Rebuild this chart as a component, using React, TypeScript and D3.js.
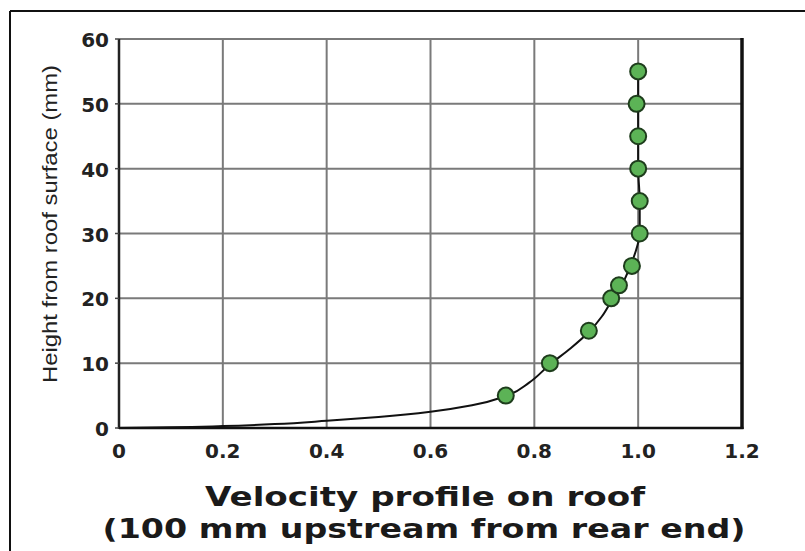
import React from 'react';
import * as d3 from 'd3';

// measured points: height (mm) and velocity ratio
const heights = [5, 10, 15, 20, 22, 25, 30, 35, 40, 45, 50, 55];
const velocities = [0.745, 0.83, 0.905, 0.948, 0.963, 0.988, 1.003, 1.003, 1.0, 1.0, 0.997, 1.0];

// fitted profile line
const curveVelocity = [0, 0.1, 0.2, 0.3, 0.4, 0.5, 0.6, 0.68, 0.745, 0.79, 0.83, 0.87, 0.905, 0.93, 0.95, 0.968, 0.985, 0.998, 1.003, 1.003, 1.0, 1.0, 1.0, 1.0];
const curveHeight = [0, 0.1, 0.3, 0.6, 1.1, 1.7, 2.5, 3.5, 4.9, 7, 9.8, 12.3, 14.8, 17.2, 19.8, 22, 25, 28, 30, 35, 40, 45, 50, 55];

const xTicks = [0, 0.2, 0.4, 0.6, 0.8, 1.0, 1.2];
const xTickLabels = ['0', '0.2', '0.4', '0.6', '0.8', '1.0', '1.2'];
const yTicks = [0, 10, 20, 30, 40, 50, 60];

const yLabel = 'Height from roof surface (mm)';
const titleLines = ['Velocity profile on roof', '(100 mm upstream from rear end)'];

export default function App() {
  const width = 805;
  const height = 551;
  const left = 119;
  const right = 742;
  const top = 39;
  const bottom = 428;

  const x = d3.scaleLinear().domain([0, 1.2]).range([left, right]);
  const y = d3.scaleLinear().domain([0, 60]).range([bottom, top]);

  const line = d3
    .line<number>()
    .x((d, i) => x(curveVelocity[i]))
    .y((d) => y(d))
    .curve(d3.curveMonotoneY);

  const tickFont = 'DejaVu Sans, sans-serif';

  return (
    <svg
      width={width}
      height={height}
      style={{ position: 'absolute', left: 0, top: 0, background: '#fff' }}
    >
      {/* frame */}
      <line x1={10} y1={11} x2={width} y2={11} stroke="#111" strokeWidth={2} />
      <line x1={10} y1={11} x2={10} y2={height} stroke="#111" strokeWidth={2} />

      {/* grid */}
      {xTicks.slice(1, -1).map((t) => (
        <line key={'gx' + t} x1={x(t)} x2={x(t)} y1={top} y2={bottom} stroke="#7a7a7a" strokeWidth={2} />
      ))}
      {yTicks.slice(1).map((t) => (
        <line key={'gy' + t} x1={left} x2={right} y1={y(t)} y2={y(t)} stroke="#7a7a7a" strokeWidth={2} />
      ))}

      {/* axes */}
      <line x1={left} x2={left} y1={top} y2={bottom + 1} stroke="#222" strokeWidth={2.5} />
      <line x1={left} x2={right + 1.5} y1={bottom} y2={bottom} stroke="#111" strokeWidth={2.5} />
      <line x1={right} x2={right} y1={top - 1} y2={bottom + 1} stroke="#111" strokeWidth={3.5} />
      {yTicks.map((t) => (
        <line key={'ty' + t} x1={left - 4} x2={left} y1={y(t)} y2={y(t)} stroke="#444" strokeWidth={1.5} />
      ))}

      {/* tick labels */}
      {xTicks.map((t, i) => (
        <text
          key={'lx' + t}
          x={x(t)}
          y={458}
          textAnchor="middle"
          fontFamily={tickFont}
          fontWeight="bold"
          fontSize={20}
          fill="#222"
        >
          {xTickLabels[i]}
        </text>
      ))}
      {yTicks.map((t) => (
        <text
          key={'ly' + t}
          x={left - 10}
          y={y(t) + 8}
          textAnchor="end"
          fontFamily={tickFont}
          fontWeight="bold"
          fontSize={20}
          fill="#222"
        >
          {t}
        </text>
      ))}

      {/* profile line */}
      <path d={line(curveHeight) || ''} fill="none" stroke="#111" strokeWidth={2} />

      {/* points */}
      {heights.map((h, i) => (
        <circle
          key={'p' + h}
          cx={x(velocities[i])}
          cy={y(h)}
          r={8}
          fill="#5cb356"
          stroke="#1e3d1c"
          strokeWidth={2}
        />
      ))}

      {/* y axis title */}
      <text
        transform={`translate(57, 224) rotate(-90)`}
        textAnchor="middle"
        fontFamily="Liberation Sans, Arial, sans-serif"
        fontSize={20}
        textLength={318}
        lengthAdjust="spacingAndGlyphs"
        fill="#222"
      >
        {yLabel}
      </text>

      {/* x axis title */}
      <text
        x={425}
        y={506}
        textAnchor="middle"
        fontFamily="DejaVu Sans, sans-serif"
        fontWeight="bold"
        fontSize={27}
        textLength={440}
        lengthAdjust="spacingAndGlyphs"
        fill="#1a1a1a"
      >
        {titleLines[0]}
      </text>
      <text
        x={424}
        y={538}
        textAnchor="middle"
        fontFamily="DejaVu Sans, sans-serif"
        fontWeight="bold"
        fontSize={27}
        textLength={643}
        lengthAdjust="spacingAndGlyphs"
        fill="#1a1a1a"
      >
        {titleLines[1]}
      </text>
    </svg>
  );
}
